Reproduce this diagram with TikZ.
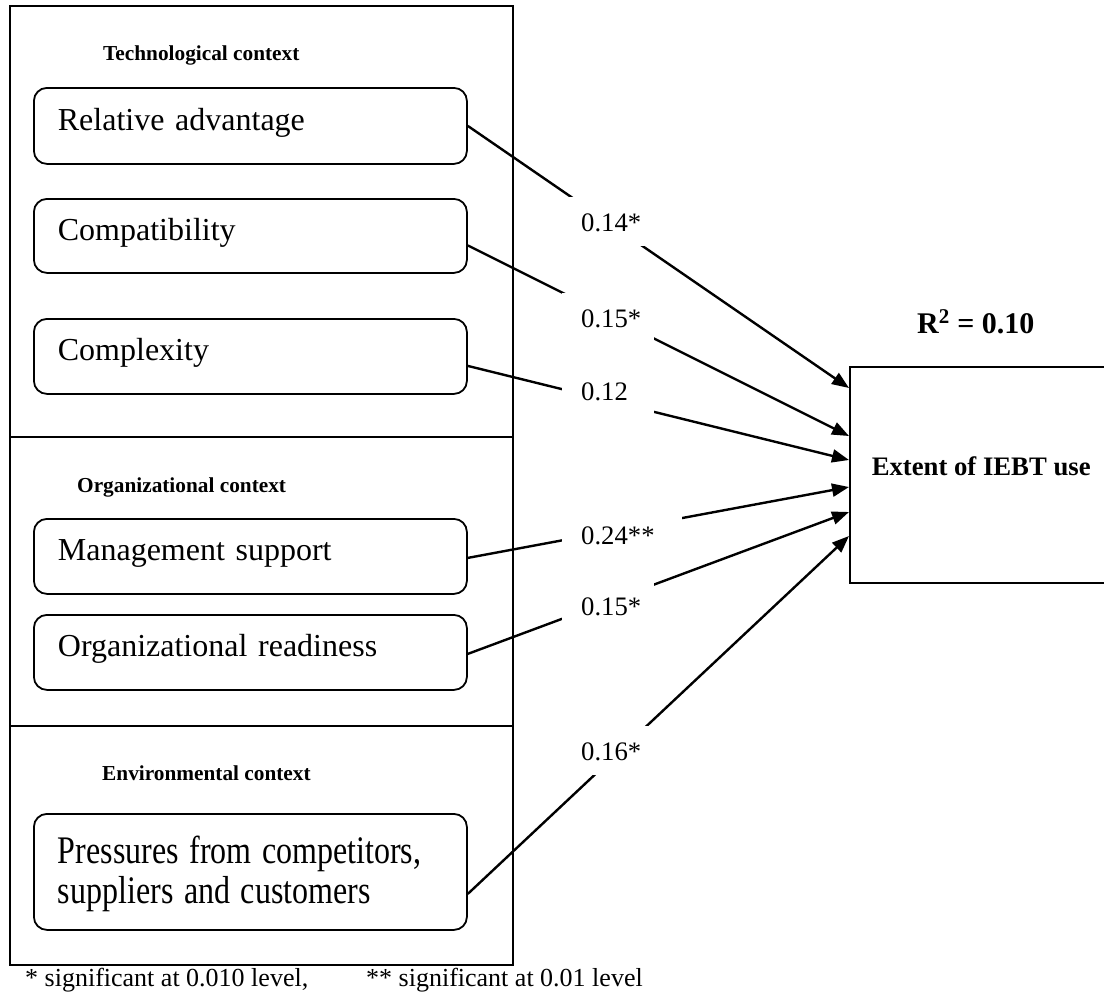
\documentclass[tikz,border=0pt]{standalone}
\usepackage{fontspec}
\setmainfont{Liberation Serif}
\usetikzlibrary{arrows.meta,calc}
\newcommand\fmain{\fontsize{32}{38}\selectfont}
\newcommand\flab{\fontsize{26.7}{32}\selectfont}
\newcommand\fttl{\fontsize{21.3}{26}\selectfont\bfseries}
\newcommand\fnote{\fontsize{26}{31}\selectfont}
\begin{document}
\begin{tikzpicture}[x=1pt,y=-1pt,
  rbox/.style={draw, rounded corners=13pt, line width=1.8pt, anchor=north west,
    minimum width=433pt, inner xsep=24pt, inner ysep=0pt, text width=385pt,
    align=left, font=\fmain, text height=42pt, text depth=33pt},
  ttl/.style={anchor=base west, inner sep=0pt, font=\fttl},
  lab/.style={anchor=north west, fill=white, inner xsep=19pt, inner ysep=0pt,
    text width=54pt, align=left, text height=34pt, text depth=15pt, font=\flab},
  conn/.style={line width=2.4pt, -{Triangle[length=17pt,width=13pt]}},
  frame/.style={line width=2.4pt}
]
\useasboundingbox (0,0) rectangle (1104,994);

% outer frame with the three context sections
\draw[frame] (10,6) rectangle (513,965);
\draw[frame] (10,437) -- (513,437);
\draw[frame] (10,726) -- (513,726);

% section titles
\node[ttl] (tech) at (103,60) {Technological context};
\node[ttl] (org) at (77,492) {Organizational context};
\node[ttl] (env) at (102,780) {Environmental context};

% factor boxes
\node[rbox, text height=43pt] (ra) at (33,87) {Relative advantage};
\node[rbox, text depth=32pt] (cp) at (33,198) {Compatibility};
\node[rbox] (cx) at (33,318) {Complexity};
\node[rbox] (ms) at (33,518) {Management support};
\node[rbox] (or) at (33,614) {Organizational readiness};
\node[rbox, text height=50pt, text depth=66pt] (pr) at (33,813)
  {\scalebox{1}[1.22]{\begin{tabular}[t]{@{}l@{}}Pressures from competitors,\\[-5.4pt]suppliers and customers\end{tabular}}};

% dependent variable
\node[draw, line width=2.4pt, anchor=north west, minimum width=262pt,
  minimum height=216pt, inner sep=0pt, text height=10pt, text depth=10pt,
  font=\fontsize{26.7}{32}\selectfont\bfseries] (ext) at (849,366) {Extent of IEBT use};
\node[anchor=base west, inner sep=0pt, font=\fontsize{30}{36}\selectfont\bfseries]
  (r2) at (917,333) {R\textsuperscript{2} = 0.10};

% connectors
\draw[conn] (ra.east) -- ([yshift=-22pt]ext.north west);
\draw[conn] ([yshift=-9.5pt]cp.east) -- ([yshift=-70pt]ext.north west);
\draw[conn] ([yshift=-9.5pt]cx.east) -- ([yshift=-94pt]ext.north west);
\draw[conn] ([yshift=-1.5pt]ms.east) -- ([yshift=-121pt]ext.north west);
\draw[conn] ([yshift=-1.5pt]or.east) -- ([yshift=-146pt]ext.north west);
\draw[conn] ([yshift=-22pt]pr.east) -- ([yshift=-170pt]ext.north west);

% coefficient labels
\node[lab] (c1) at (562,197) {0.14*};
\node[lab] (c2) at (562,293) {0.15*};
\node[lab] (c3) at (562,366) {0.12};
\node[lab, text width=82pt] (c4) at (562,510) {0.24**};
\node[lab] (c5) at (562,581) {0.15*};
\node[lab] (c6) at (562,726) {0.16*};

% footnote
\node[anchor=base west, inner sep=0pt, font=\fnote] (note1) at (25,986)
  {* significant at 0.010 level,};
\node[anchor=base west, inner sep=0pt, font=\fnote] (note2) at (366,986)
  {** significant at 0.01 level};
\end{tikzpicture}
\end{document}
